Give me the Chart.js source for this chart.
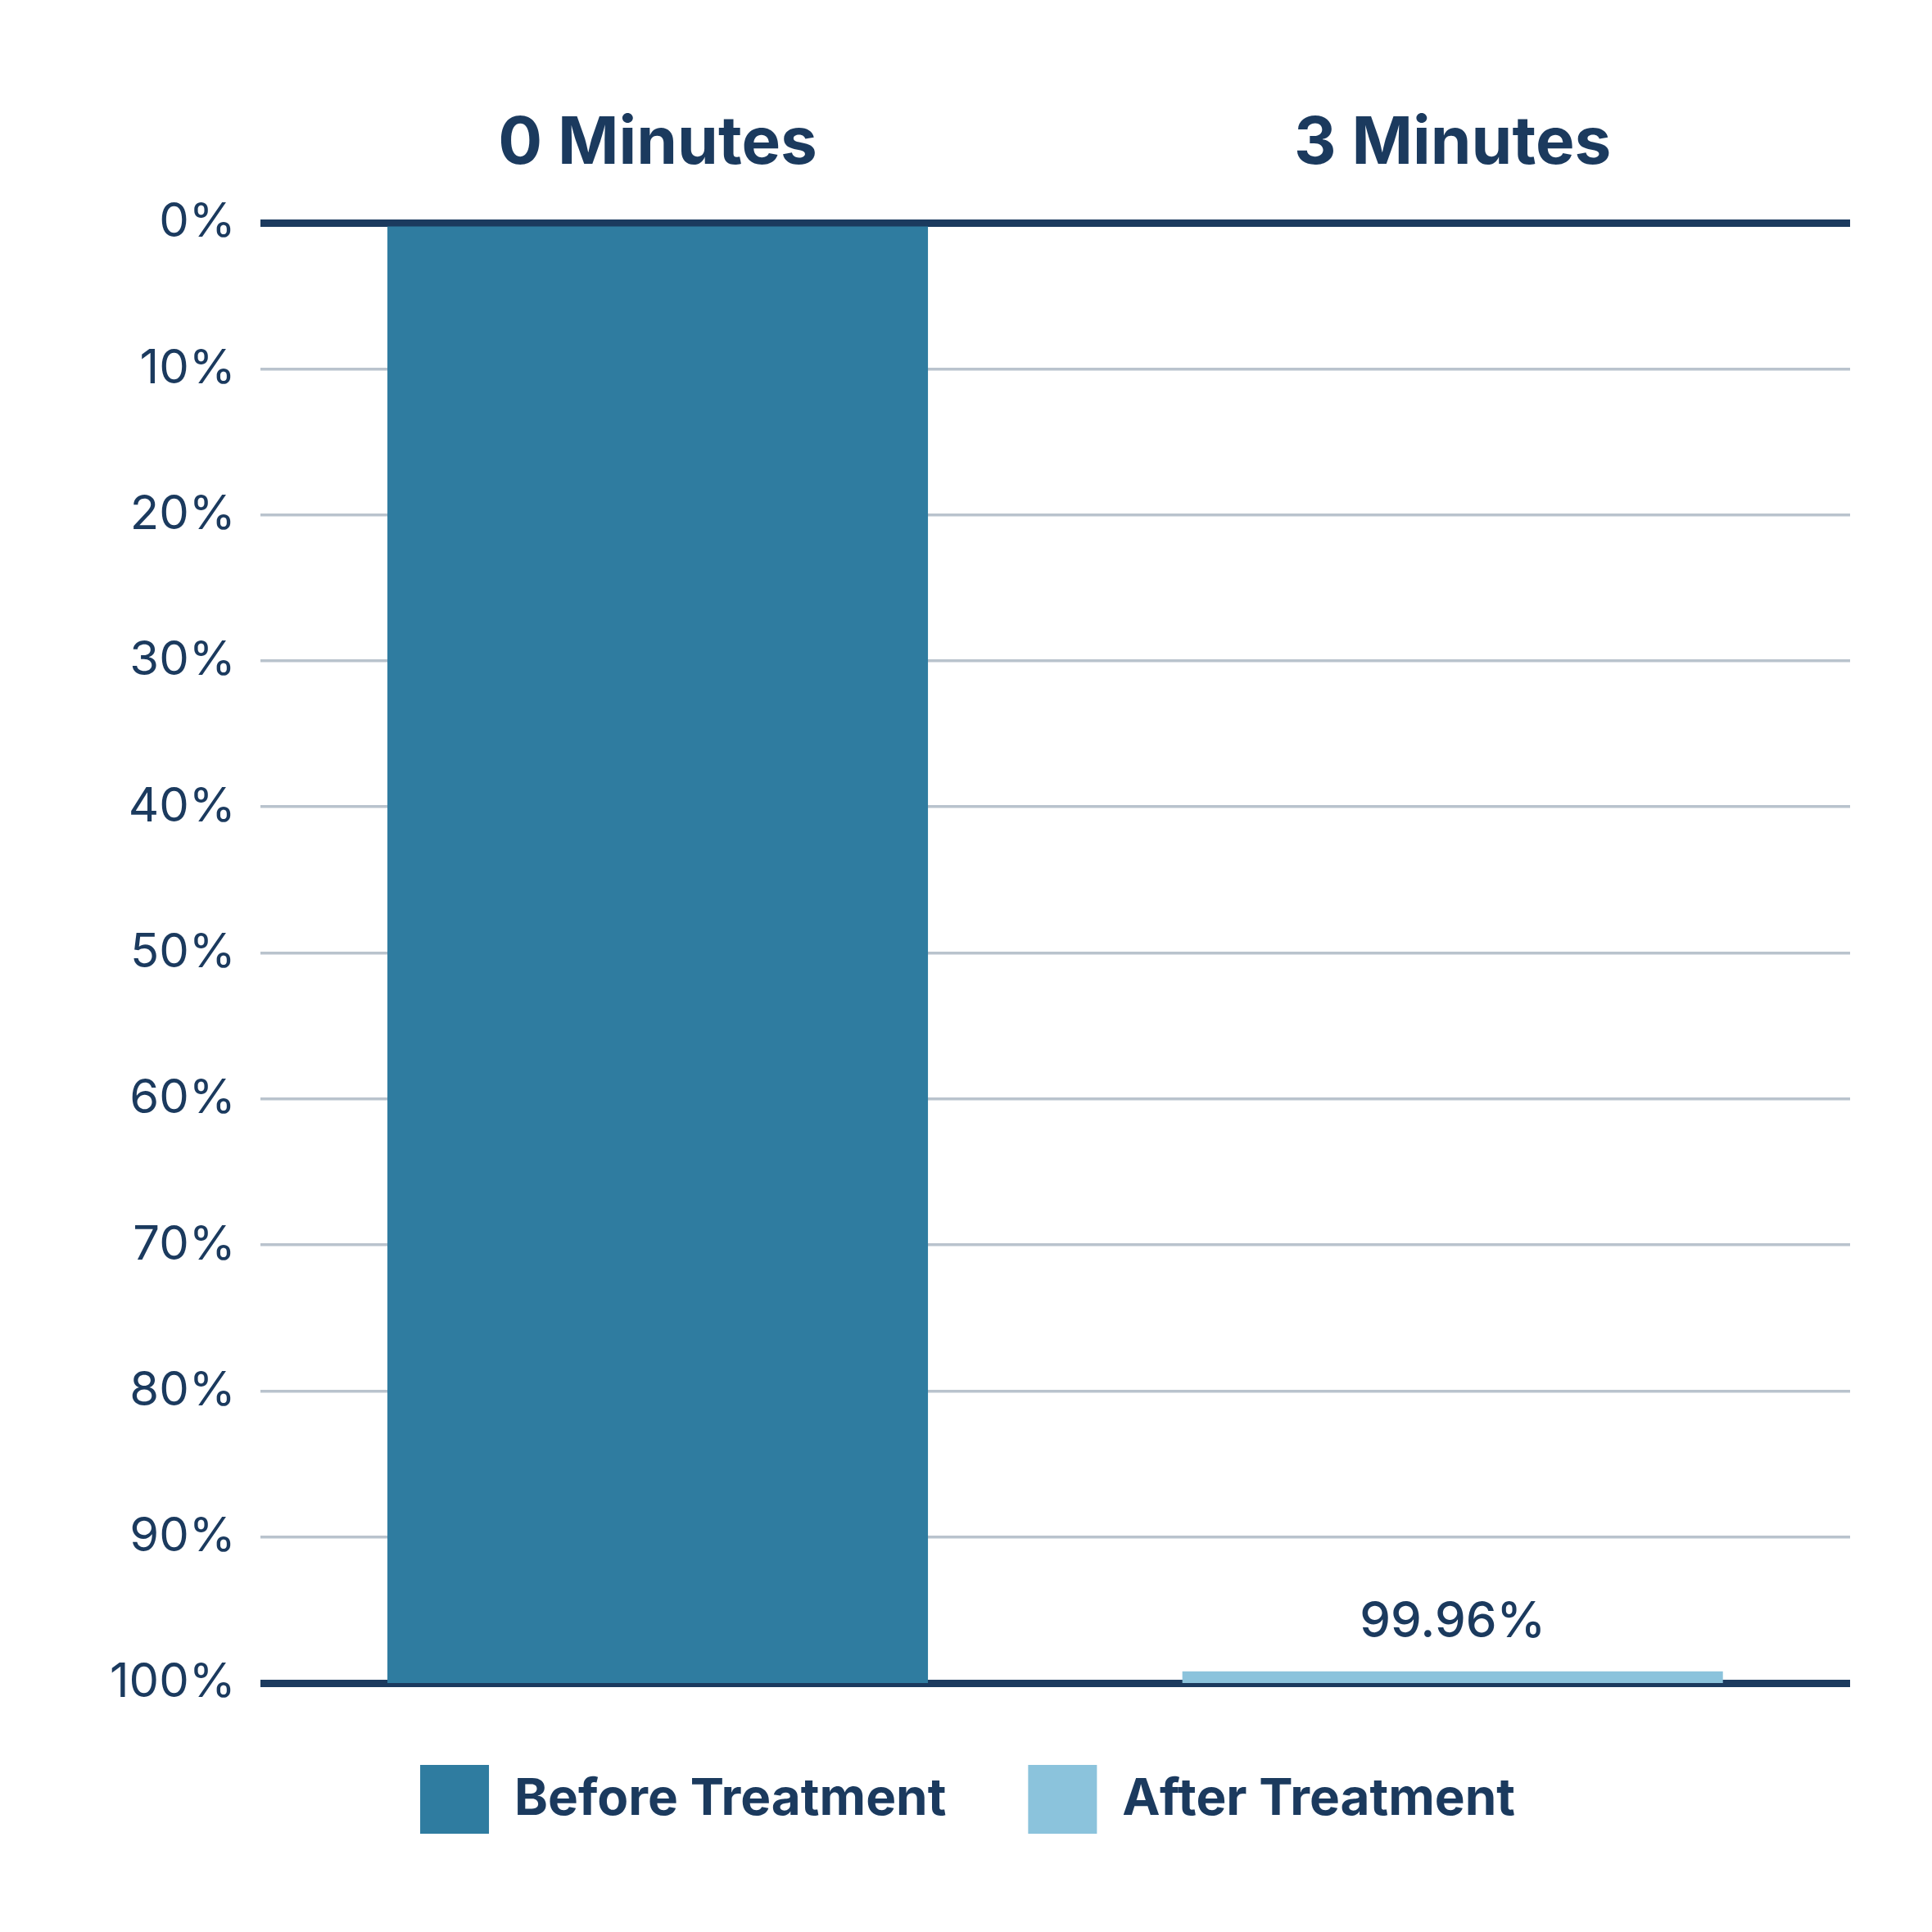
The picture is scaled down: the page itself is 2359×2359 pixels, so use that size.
<!DOCTYPE html>
<html><head><meta charset="utf-8">
<script src="https://cdn.jsdelivr.net/npm/chart.js@4/dist/chart.umd.min.js"></script>
<style>html,body{margin:0;padding:0;background:#fff}</style>
</head><body>
<canvas id="c" width="2359" height="2359"></canvas>
<script>
const categories = ["0 Minutes", "3 Minutes"];
const beforeValues = [[0, 100], null];
const afterValues = [null, [99.2, 100]];
const afterLabel = "99.96%";
const yTicks = [0,10,20,30,40,50,60,70,80,90,100];
const navy = "#1b3a5e";
const labelPlugin = {
  id: 'lbl',
  afterDatasetsDraw(chart) {
    const m = chart.getDatasetMeta(1).data[1];
    const ctx = chart.ctx;
    ctx.save();
    ctx.font = "500 60px Inter";
    ctx.fillStyle = navy;
    ctx.textAlign = "center";
    ctx.textBaseline = "bottom";
    ctx.fillText(afterLabel, m.x, Math.min(m.y, m.base) - 30);
    ctx.restore();
  }
};
new Chart(document.getElementById('c'), {
  type: 'bar',
  data: {
    labels: categories,
    datasets: [
      {label: "Before Treatment", data: beforeValues, backgroundColor: "#2f7ca0"},
      {label: "After Treatment", data: afterValues, backgroundColor: "#8bc3dc"}
    ]
  },
  options: {
    responsive: false, devicePixelRatio: 1, animation: false,
    layout: {padding: {top: 88, right: 100, left: 104, bottom: 110}},
    datasets: {bar: {grouped: false, barPercentage: 0.68, categoryPercentage: 1}},
    plugins: {
      tooltip: {enabled: false},
      legend: {position: 'bottom',
        labels: {boxWidth: 84, boxHeight: 84, padding: 100, color: navy,
          font: {family: "Inter", weight: "bold", size: 62}}}
    },
    scales: {
      x: {position: 'top', grid: {display: false}, border: {display: false},
        ticks: {color: navy, padding: 40, font: {family: "Inter", weight: "bold", size: 80}}},
      y: {reverse: true, min: 0, max: 100,
        afterBuildTicks(ax) { ax.ticks = yTicks.map(v => ({value: v})); },
        border: {display: false},
        grid: {drawTicks: false,
          color: c => (c.tick.value === 0 || c.tick.value === 100) ? navy : "#b9c3cd",
          lineWidth: c => (c.tick.value === 0 || c.tick.value === 100) ? 9 : 3.5},
        ticks: {color: navy, padding: 30, font: {family: "Inter", size: 58},
          callback: v => v + "%"}}
    }
  },
  plugins: [labelPlugin]
});
</script>
</body></html>
